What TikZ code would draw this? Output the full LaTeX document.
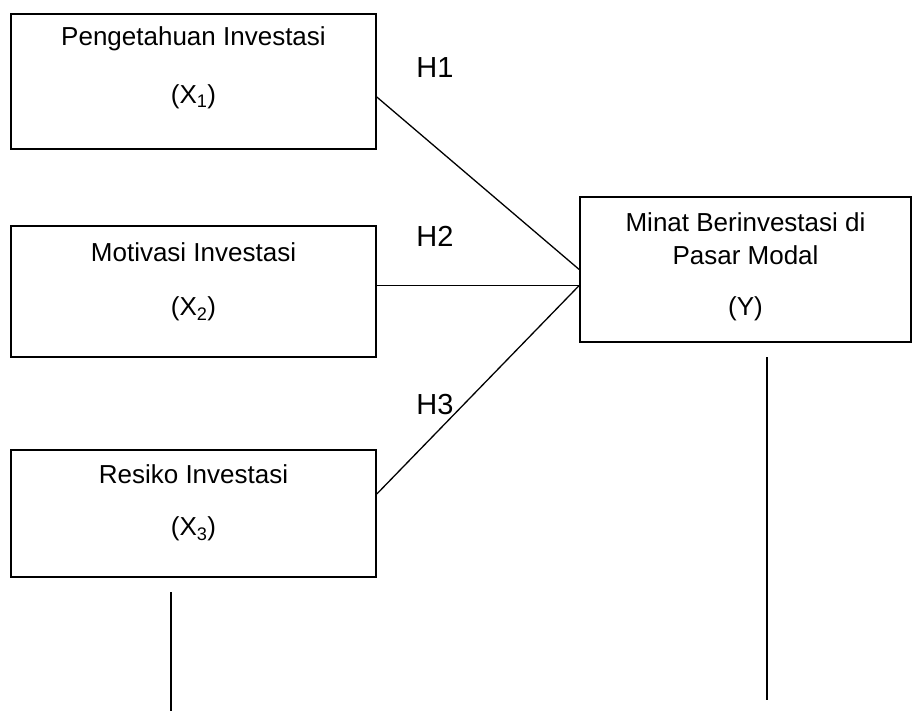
\documentclass[tikz,border=0pt]{standalone}
\usepackage{fontspec}
\setmainfont{Liberation Sans}
\usetikzlibrary{positioning,calc}

\begin{document}
\begin{tikzpicture}[x=1pt,y=-1pt,
  varbox/.style={draw=black, line width=1.6pt, minimum width=365pt, inner sep=0pt},
  vartext/.style={inner sep=0pt, font=\fontsize{26}{30}\selectfont},
  link/.style={black, line width=1.3pt},
  hyp/.style={inner sep=0pt, font=\fontsize{29}{33}\selectfont}]

\useasboundingbox (0,0) rectangle (912,711);

% variabel bebas
\node[varbox, minimum height=135pt] (x1) at (193.5,81.5) {};
\node[varbox, minimum height=131pt] (x2) at (193.5,291.5) {};
\node[varbox, minimum height=127pt] (x3) at (193.5,513.5) {};
% variabel terikat
\node[varbox, minimum width=331pt, minimum height=145pt] (y) at (745.5,269.5) {};

\node[vartext] (x1name) at ($(x1.north)+(0,26)$) {Pengetahuan Investasi};
\node[vartext] (x1sym) at ($(x1.north)+(0,84)$) {(X\textsubscript{1})};
\node[vartext] (x2name) at ($(x2.north)+(0,27)$) {Motivasi Investasi};
\node[vartext] (x2sym) at ($(x2.north)+(0,84)$) {(X\textsubscript{2})};
\node[vartext] (x3name) at ($(x3.north)+(0,25)$) {Resiko Investasi};
\node[vartext] (x3sym) at ($(x3.north)+(0,80)$) {(X\textsubscript{3})};
\node[vartext] (yname) at ($(y.north)+(0,26)$) {Minat Berinvestasi di};
\node[vartext] (yname2) at ($(y.north)+(0,59)$) {Pasar Modal};
\node[vartext] (ysym) at ($(y.north)+(0,113)$) {(Y)};

\coordinate (yin) at ($(y.west)+(0,16)$);
\draw[link] ($(x1.east)+(0,15.5)$) -- (y.west);
\draw[link] (x2.east|-yin) -- (yin);
\draw[link] ($(x3.east)+(0,-19.5)$) -- (yin);

\node[hyp] (h1) at (435,68) {H1};
\node[hyp] (h2) at (435,236) {H2};
\node[hyp] (h3) at (435,405) {H3};

\coordinate (x3top) at (171,592);
\coordinate (x3end) at (171,711);
\coordinate (ytop) at (767,357);
\coordinate (yend) at (767,700);
\draw[link] (x3top) -- (x3end);
\draw[link] (ytop) -- (yend);

\end{tikzpicture}
\end{document}
